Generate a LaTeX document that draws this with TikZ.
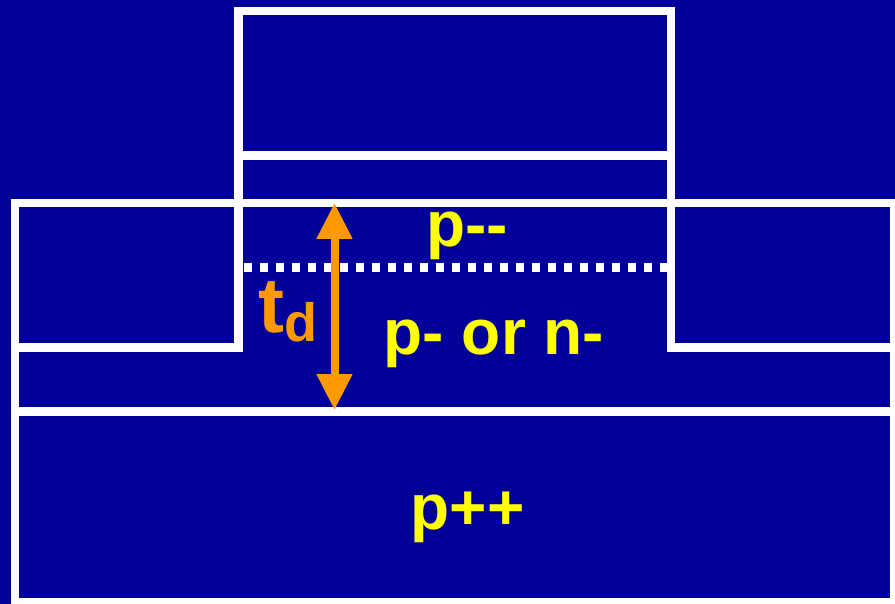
\documentclass[tikz,border=0pt]{standalone}
\usepackage{fontspec}
\setmainfont{Liberation Sans}
\usetikzlibrary{arrows.meta}
\definecolor{navy}{RGB}{0,0,153}
\definecolor{arrorange}{RGB}{255,153,0}
\definecolor{labyellow}{RGB}{255,255,0}
\tikzset{
  wline/.style={draw=white,line width=8.5pt},
  dotline/.style={draw=white,line width=8.5pt,dash pattern=on 8pt off 8pt},
  lab/.style={text=labyellow,font=\bfseries\fontsize{64}{64}\selectfont,inner sep=0pt,anchor=base},
  dimarrow/.style={draw=arrorange,line width=8pt,
    {Triangle[length=36pt,width=34pt]}-{Triangle[length=36pt,width=34pt]}}
}
\begin{document}
\begin{tikzpicture}[x=1pt,y=-1pt]
\fill[navy] (0,0) rectangle (895,604);
\useasboundingbox (0,0) rectangle (895,604);
\begin{scope}
\clip (0,0) rectangle (895,604);
% gate top box
\draw[wline] (238.5,11) rectangle (671,155.5);
% mesa sides
\draw[wline] (238.5,155.5) -- (238.5,347.5) -- (15,347.5);
\draw[wline] (671,155.5) -- (671,347.5) -- (899,347.5);
% outer box
\draw[wline] (899,203) -- (15,203) -- (15,602) -- (899,602);
\draw[wline] (894.5,203) -- (894.5,602);
% p++ top
\draw[wline] (15,411.5) -- (899,411.5);
% dotted p-- bottom
\draw[dotline] (243.5,267.5) -- (671,267.5);
\end{scope}
% thickness arrow
\coordinate (atop) at (334.5,203);
\coordinate (abot) at (334.5,410);
\draw[dimarrow] (atop) -- (abot);
% labels
\node[lab] (pmm) at (467,247) {p-{}-};
\node[lab] (pn) at (494,354) {p- or n-};
\node[lab] (ppp) at (467.5,529) {p++};
\node[inner sep=0pt,anchor=base west,text=arrorange,font=\bfseries] (td) at (258,333)
  {{\fontsize{78}{78}\selectfont t}\raisebox{-9pt}{\fontsize{54}{54}\selectfont d}};
\end{tikzpicture}
\end{document}
